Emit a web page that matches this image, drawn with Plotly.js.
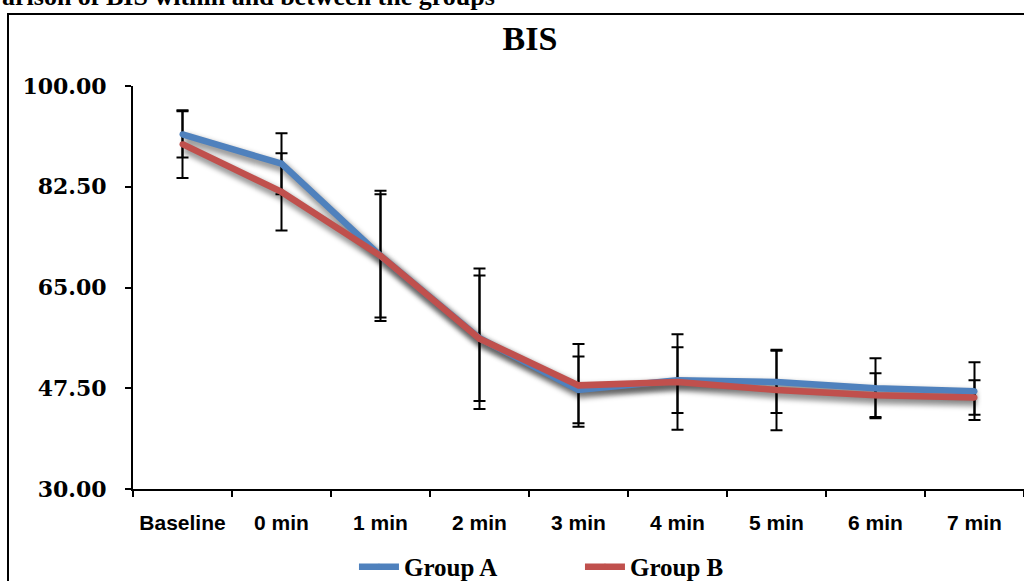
<!DOCTYPE html>
<html>
<head>
<meta charset="utf-8">
<script src="https://cdn.plot.ly/plotly-3.0.1.min.js"></script>
<style>
  html, body { margin: 0; padding: 0; width: 1024px; height: 581px; overflow: hidden; background: #fff; }
  #frame { position: absolute; left: 7px; top: 13px; width: 1100px; height: 700px; border: 2px solid #000; box-sizing: border-box; }
  #chart { position: absolute; left: 0; top: 0; width: 1024px; height: 581px; }
</style>
</head>
<body>
<div id="frame"></div>
<div id="chart"></div>
<script>
// ---- data ----
const categories = ['Baseline', '0 min', '1 min', '2 min', '3 min', '4 min', '5 min', '6 min', '7 min'];
const groupA = [91.6, 86.5, 70.5, 56.2, 47.2, 48.9, 48.6, 47.5, 47.0];
const groupB = [89.9, 81.6, 70.5, 56.1, 48.0, 48.6, 47.2, 46.3, 45.9];
const sdA = [4.0, 5.3, 11.3, 10.9, 5.8, 5.7, 5.4, 5.2, 5.0];
const sdB = [5.9, 6.7, 10.7, 12.2, 7.2, 8.3, 7.0, 3.8, 3.0];
const yTicks = [30, 47.5, 65, 82.5, 100];
const seriesNames = ['Group A', 'Group B'];
const chartTitle = 'BIS';
const topCaption = 'arison of BIS within and between the groups';

const blue = '#4F81BD';
const red = '#C0504D';

function shadow(y) {
  return { x: categories, y: y, type: 'scatter', mode: 'lines', showlegend: false, hoverinfo: 'skip',
           line: { color: 'rgba(0,0,0,0.38)', width: 10 } };
}
function errTrace(y, sd) {
  return { x: categories, y: y, type: 'scatter', mode: 'markers', showlegend: false, hoverinfo: 'skip',
           marker: { size: 1, color: 'rgba(0,0,0,0)' },
           error_y: { type: 'data', array: sd, visible: true, color: '#000', thickness: 2, width: 6 } };
}
function lineTrace(y, name, color) {
  return { x: categories, y: y, name: name, type: 'scatter', mode: 'lines+markers',
           line: { color: color, width: 6.5 }, marker: { color: color, size: 6 } };
}

const data = [
  shadow(groupA), shadow(groupB),
  errTrace(groupA, sdA), errTrace(groupB, sdB),
  lineTrace(groupA, seriesNames[0], blue), lineTrace(groupB, seriesNames[1], red)
];

const layout = {
  width: 1024, height: 581,
  margin: { l: 133, r: 0, t: 86, b: 92, autoexpand: false },
  paper_bgcolor: 'rgba(0,0,0,0)', plot_bgcolor: 'rgba(0,0,0,0)',
  showlegend: true,
  title: { text: chartTitle, font: { family: 'Liberation Serif', size: 34, color: '#000', weight: 'bold' },
           xref: 'container', x: 0.5176, xanchor: 'center', yref: 'container', y: 0.935, yanchor: 'middle' },
  xaxis: {
    type: 'category', range: [-0.5, 8.5], showline: true, linecolor: '#000', linewidth: 2,
    ticks: 'outside', tickson: 'boundaries', ticklen: 6, tickwidth: 2, tickcolor: '#000',
    showgrid: false, zeroline: false, ticklabelstandoff: 14, automargin: false,
    tickfont: { family: 'Liberation Sans', size: 21, color: '#000', weight: 'bold' }
  },
  yaxis: {
    range: [30, 100], tickvals: yTicks, tickformat: '.2f', showline: true, linecolor: '#000', linewidth: 2,
    ticks: 'outside', ticklen: 6, tickwidth: 2, tickcolor: '#000', showgrid: false, zeroline: false,
    ticklabelstandoff: 14, automargin: false,
    tickfont: { family: 'DejaVu Serif', size: 22, color: '#000', weight: 'bold' }
  },
  legend: {
    orientation: 'h', x: 0.248, xanchor: 'left', y: -0.1935, yanchor: 'middle',
    entrywidth: 171, entrywidthmode: 'pixels', itemwidth: 40,
    font: { family: 'Liberation Serif', size: 25, color: '#000', weight: 'bold' },
    bgcolor: 'rgba(0,0,0,0)'
  },
  annotations: [{
    text: topCaption, xref: 'paper', yref: 'paper', x: (0 - 133) / 891, xanchor: 'left',
    y: 1.221, yanchor: 'middle', showarrow: false,
    font: { family: 'Liberation Serif', size: 26, color: '#000', weight: 'bold' }
  }]
};

Plotly.newPlot('chart', data, layout, { displayModeBar: false, staticPlot: true }).then(function (gd) {
  const svg = gd.querySelector('svg.main-svg');
  const ns = 'http://www.w3.org/2000/svg';
  let defs = svg.querySelector('defs');
  if (!defs) { defs = document.createElementNS(ns, 'defs'); svg.insertBefore(defs, svg.firstChild); }
  const f = document.createElementNS(ns, 'filter');
  f.setAttribute('id', 'shadowBlur');
  f.setAttribute('x', '-20%'); f.setAttribute('y', '-20%'); f.setAttribute('width', '140%'); f.setAttribute('height', '140%');
  const b = document.createElementNS(ns, 'feGaussianBlur');
  b.setAttribute('stdDeviation', '2.5');
  f.appendChild(b);
  defs.appendChild(f);
  const traces = gd.querySelectorAll('.scatterlayer .trace');
  for (let i = 0; i < 2 && i < traces.length; i++) {
    traces[i].setAttribute('transform', 'translate(2,4)');
    traces[i].setAttribute('filter', 'url(#shadowBlur)');
  }
});
</script>
</body>
</html>
